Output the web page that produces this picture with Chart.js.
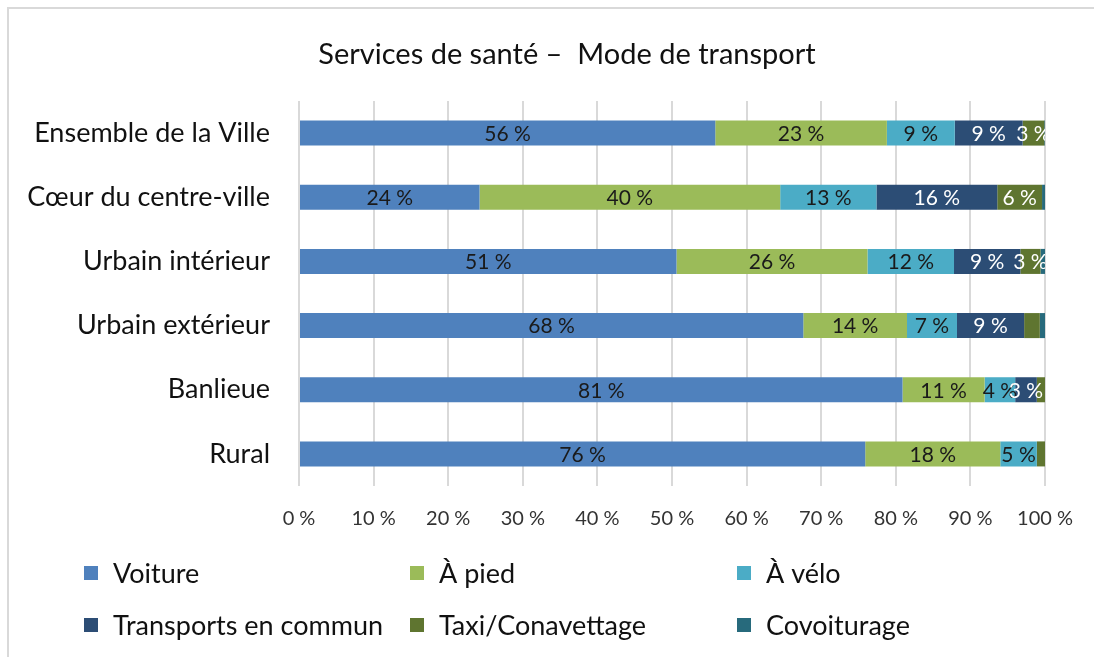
<!DOCTYPE html>
<html>
<head>
<meta charset="utf-8">
<script src="https://cdn.jsdelivr.net/npm/chart.js@4"></script>
<style>
  html, body { margin: 0; padding: 0; background: #fff; overflow: hidden; }
</style>
</head>
<body>
<canvas id="graphique" width="1094" height="657"></canvas>
<script>
const categories = ['Ensemble de la Ville', 'Cœur du centre-ville', 'Urbain intérieur', 'Urbain extérieur', 'Banlieue', 'Rural'];
const seriesNames = ['Voiture', 'À pied', 'À vélo', 'Transports en commun', 'Taxi/Conavettage', 'Covoiturage'];

const voiture    = [55.8, 24.2, 50.6, 67.6, 80.9, 75.9];
const aPied      = [23.0, 40.3, 25.6, 13.9, 11.0, 18.1];
const aVelo      = [9.1, 12.9, 11.6, 6.7, 4.1, 4.9];
const transports = [9.1, 16.2, 8.9, 9.0, 2.9, 0];
const taxi       = [2.9, 6.0, 2.7, 2.1, 1.1, 1.1];
const covoit     = [0.1, 0.4, 0.6, 0.7, 0, 0];

const xTickLabels = ['0 %', '10 %', '20 %', '30 %', '40 %', '50 %', '60 %', '70 %', '80 %', '90 %', '100 %'];

const seriesColors = ['#4f81bd', '#9bbb59', '#4bacc6', '#2c4d75', '#5f7530', '#276a7c'];
const labelColors = ['#1a1a1a', '#1a1a1a', '#1a1a1a', '#ffffff', '#ffffff', '#ffffff'];
const police = 'Lato, "Noto Sans", sans-serif';

const allSeries = [voiture, aPied, aVelo, transports, taxi, covoit];

// titre, cadre, etiquettes et legende dessines a la main
const decor = {
  id: 'decor',
  beforeDraw(chart) {
    const c = chart.ctx;
    c.save();
    c.fillStyle = '#d9d9d9';
    c.fillRect(7, 7, 1094, 2);
    c.fillRect(7, 7, 2, 657);
    c.restore();
  },
  afterDatasetsDraw(chart) {
    const c = chart.ctx;
    const area = chart.chartArea;
    c.save();
    c.beginPath();
    c.rect(area.left, area.top, area.right - area.left, area.bottom - area.top);
    c.clip();
    c.font = '21px ' + police;
    c.textAlign = 'center';
    c.textBaseline = 'middle';
    chart.data.datasets.forEach((ds, i) => {
      const meta = chart.getDatasetMeta(i);
      meta.data.forEach((bar, j) => {
        const v = ds.data[j];
        if (v < 2.5) return;
        c.fillStyle = labelColors[i];
        c.fillText(Math.round(v) + ' %', (bar.x + bar.base) / 2, bar.y + 1);
      });
    });
    c.restore();
  },
  afterDraw(chart) {
    const c = chart.ctx;
    c.save();
    c.fillStyle = '#111';
    c.font = '29px ' + police;
    c.textAlign = 'center';
    c.textBaseline = 'middle';
    c.fillText('Services de santé –  Mode de transport', 567, 55);

    const cols = [84, 410, 737];
    const rows = [573, 625];
    c.font = '27px ' + police;
    c.textAlign = 'left';
    chart.data.datasets.forEach((ds, i) => {
      const x = cols[i % 3];
      const y = rows[Math.floor(i / 3)];
      c.fillStyle = ds.backgroundColor;
      c.fillRect(x, y - 7, 14, 14);
      c.fillStyle = '#111';
      c.fillText(ds.label, x + 29, y + 1);
    });
    c.restore();
  }
};

const graphique = new Chart(document.getElementById('graphique').getContext('2d'), {
  type: 'bar',
  data: {
    labels: categories,
    datasets: seriesNames.map((nom, i) => ({
      label: nom,
      data: allSeries[i],
      backgroundColor: seriesColors[i],
      borderWidth: 0,
      barPercentage: 0.39,
      categoryPercentage: 1
    }))
  },
  options: {
    indexAxis: 'y',
    responsive: false,
    animation: false,
    devicePixelRatio: 1,
    layout: {
      padding: { left: 8, right: 48, top: 101, bottom: 121 }
    },
    plugins: {
      legend: { display: false },
      title: { display: false },
      tooltip: { enabled: false }
    },
    scales: {
      x: {
        stacked: true,
        min: 0,
        max: 100,
        ticks: {
          stepSize: 10,
          padding: 21,
          color: '#333',
          font: { family: police, size: 20 },
          callback: (v) => xTickLabels[Math.round(v / 10)]
        },
        grid: {
          color: '#d9d9d9',
          lineWidth: 2,
          drawTicks: false
        },
        border: { display: false },
        afterFit: (s) => { s.height = 50; }
      },
      y: {
        stacked: true,
        ticks: {
          padding: 21,
          color: '#111',
          font: { family: police, size: 27 }
        },
        grid: { display: false },
        border: { display: false },
        afterFit: (s) => { s.width = 291; }
      }
    }
  },
  plugins: [decor]
});
</script>
</body>
</html>
